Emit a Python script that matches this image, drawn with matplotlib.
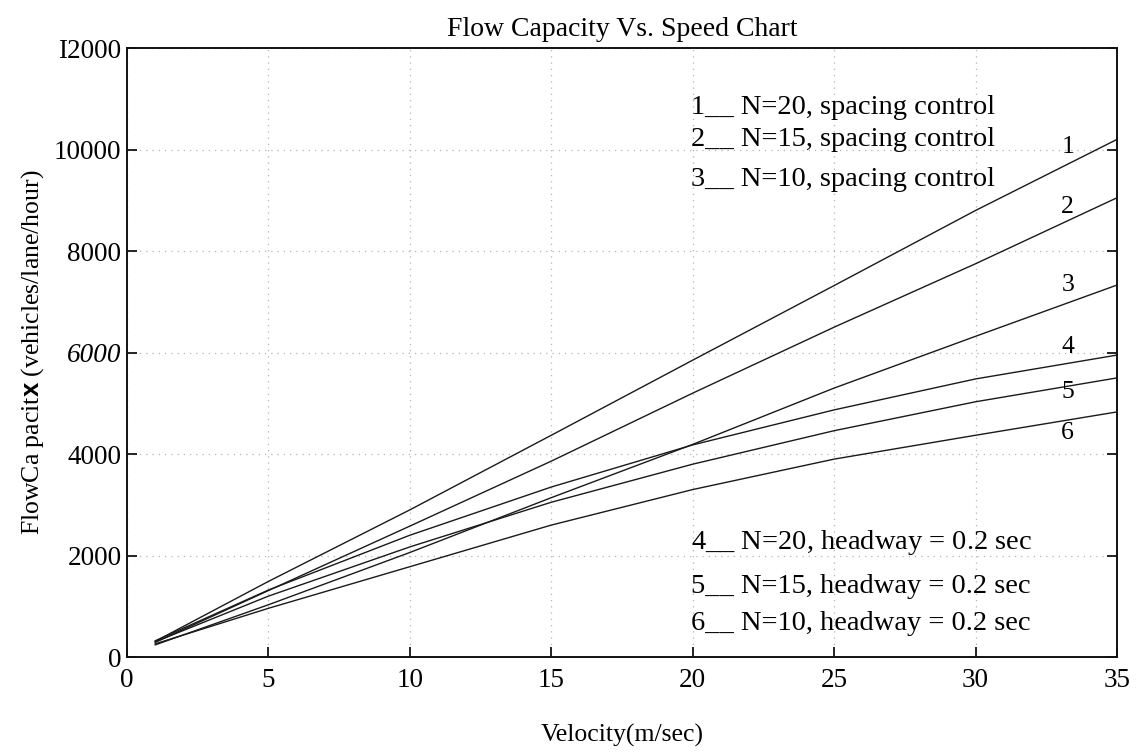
import matplotlib
matplotlib.use("Agg")
import matplotlib.pyplot as plt

# ---- data ----
velocity = [1, 5, 10, 15, 20, 25, 30, 35]
n20_spacing = [310, 1490, 2900, 4370, 5850, 7320, 8800, 10200]
n15_spacing = [290, 1310, 2580, 3860, 5200, 6500, 7750, 9050]
n10_spacing = [240, 1030, 2060, 3140, 4190, 5300, 6320, 7330]
n20_headway = [320, 1320, 2400, 3350, 4180, 4870, 5480, 5950]
n15_headway = [300, 1200, 2170, 3050, 3800, 4460, 5030, 5500]
n10_headway = [260, 960, 1780, 2600, 3300, 3900, 4370, 4830]
series = [n20_spacing, n15_spacing, n10_spacing, n20_headway, n15_headway, n10_headway]
curve_ids = ["1", "2", "3", "4", "5", "6"]
label_y = [10050, 8870, 7330, 6110, 5220, 4410]

x_ticks = [0, 5, 10, 15, 20, 25, 30, 35]
x_tick_labels = ["0", "5", "10", "15", "20", "25", "30", "35"]
y_ticks = [0, 2000, 4000, 6000, 8000, 10000, 12000]
y_tick_labels = ["0", "2000", "4000", "6000", "8000", "10000", "I2000"]

spacing_notes = ["1__ N=20, spacing control",
                 "2__ N=15, spacing control",
                 "3__ N=10, spacing control"]
spacing_note_y = [10820, 10190, 9400]
headway_notes = [r"4__ N=20, headway = $\mathit{0.2}$ sec",
                 "5__ N=15, headway = 0.2 sec",
                 "6__ N=10, headway = 0.2 sec"]
headway_note_y = [2250, 1380, 670]

plt.rcParams['font.family'] = ['Liberation Serif', 'DejaVu Serif']
plt.rcParams['mathtext.fontset'] = 'custom'
plt.rcParams['mathtext.it'] = 'Liberation Serif:italic'
plt.rcParams['mathtext.rm'] = 'Liberation Serif'
plt.rcParams['mathtext.bf'] = 'Liberation Sans:bold'

fig = plt.figure(figsize=(11.39, 7.52), dpi=100)
ax = fig.add_axes([0.1115, 0.1263, 0.8692, 0.8098])

for ys in series:
    ax.plot(velocity, ys, color='#1a1a1a', lw=1.0)

for cid, yy in zip(curve_ids, label_y):
    ax.text(33.26, yy, cid, fontsize=18.5, ha='center', va='center')

for t, yy in zip(spacing_notes, spacing_note_y):
    ax.text(19.95, yy, t, fontsize=20.5, ha='left', va='center')
for t, yy in zip(headway_notes, headway_note_y):
    ax.text(19.95, yy, t, fontsize=20.5, ha='left', va='center')

ax.set_xlim(0, 35)
ax.set_ylim(0, 12000)
ax.set_xticks(x_ticks)
ax.set_xticklabels(x_tick_labels)
ax.set_yticks(y_ticks)
ax.set_yticklabels(y_tick_labels)
ax.tick_params(direction='in', length=7, width=1.2, labelsize=19.5,
               top=False, right=True)
ax.tick_params(axis='x', pad=8)
ax.tick_params(axis='y', pad=4)
ax.get_yticklabels()[3].set_fontstyle('italic')

ax.grid(True, linestyle=(0, (1, 4)), color='#b4b4b4', lw=0.9)
for s in ax.spines.values():
    s.set_linewidth(1.4)
    s.set_color('#111111')

ax.set_title("Flow Capacity Vs. Speed Chart", fontsize=20, pad=9)
ax.set_xlabel("Velocity(m/sec)", fontsize=18.5, labelpad=22)
ax.set_ylabel(r"FlowCa pacit$\mathbf{x}$ (vehicles/lane/hour)", fontsize=18.5, labelpad=6)

fig.savefig("out.png", dpi=100)
